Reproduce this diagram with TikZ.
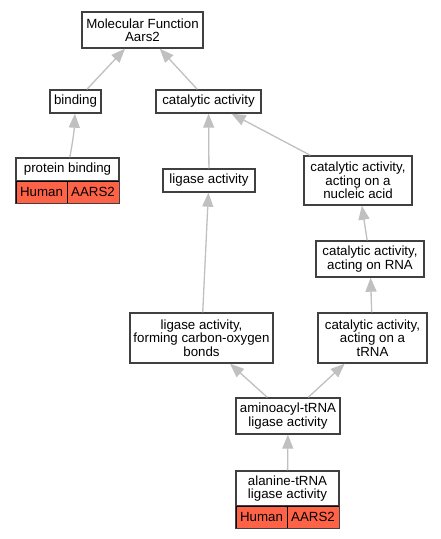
\documentclass[tikz,border=0pt]{standalone}
\usepackage{fontspec}
\setmainfont{Liberation Sans}
\usetikzlibrary{arrows.meta}
\definecolor{termline}{HTML}{404040}
\definecolor{edgegray}{HTML}{C0C0C0}
\definecolor{genefill}{HTML}{FF6347}
\tikzset{
  term/.style={draw=termline, line width=1.4pt, fill=white, inner sep=0pt,
    align=center, font=\fontsize{13.3}{13.5}\selectfont},
  cell/.style={draw=black, line width=1pt, fill=genefill, inner sep=0pt,
    minimum height=22pt, font=\fontsize{13.3}{13.5}\selectfont},
  isa/.style={draw=edgegray, line width=1.3pt, -{Triangle[length=14pt,width=11pt]}}
}
\begin{document}
\begin{tikzpicture}[x=1pt, y=-1pt]
            \useasboundingbox[fill=white] (0,0) rectangle (441,539);
            % Nodes
            \node[term, minimum width=121pt, minimum height=36pt] (mf) at (142.5,30) {Molecular Function\\Aars2};
            \node[term, minimum width=51pt, minimum height=23pt] (binding) at (75.5,101.5) {binding};
            \node[term, minimum width=105pt, minimum height=23pt] (catalytic) at (208.5,101.5) {catalytic activity};
            \node[term, minimum width=103pt, minimum height=23pt] (protbind) at (67.5,169.5) {protein binding};
            \node[term, minimum width=92pt, minimum height=23pt] (ligase) at (209,180.5) {ligase activity};
            \node[term, minimum width=108pt, minimum height=49pt] (nucleic) at (358,180.5) {catalytic activity,\\acting on a\\nucleic acid};
            \node[term, minimum width=108pt, minimum height=36pt] (rna) at (370,259) {catalytic activity,\\acting on RNA};
            \node[term, minimum width=143pt, minimum height=50pt] (ligaseco) at (201.5,338) {ligase activity,\\forming carbon-oxygen\\bonds};
            \node[term, minimum width=109pt, minimum height=50pt] (trna) at (372.5,338) {catalytic activity,\\acting on a\\tRNA};
            \node[term, minimum width=104pt, minimum height=36pt] (aminoacyl) at (288,416) {aminoacyl-tRNA\\ligase activity};
            \node[term, minimum width=103pt, minimum height=35pt] (alanine) at (287.5,488.5) {alanine-tRNA\\ligase activity};

            % gene rows
            \node[cell, minimum width=51pt] (protbindhuman) at (41.5,192) {Human};
            \node[cell, minimum width=52pt] (protbindgene) at (93,192) {AARS2};
            \node[cell, minimum width=51pt] (alaninehuman) at (261.5,517) {Human};
            \node[cell, minimum width=52pt] (alaninegene) at (313,517) {AARS2};
            \draw[termline, line width=1.4pt] (protbind.north west) rectangle (protbindgene.south east);
            \draw[termline, line width=1.4pt] (alanine.north west) rectangle (alaninegene.south east);

            % Edges
            \draw[isa] (binding) -- (mf);
            \draw[isa] (catalytic) -- (mf);
            \draw[isa] (protbind) to[bend right=4] (binding);
            \draw[isa] (ligase) -- (catalytic);
            \draw[isa] (nucleic) -- (catalytic);
            \draw[isa] (rna) -- (nucleic);
            \draw[isa] (trna) -- (rna);
            \draw[isa] (ligaseco) -- (ligase);
            \draw[isa] (aminoacyl) -- (ligaseco);
            \draw[isa] (aminoacyl) -- (trna);
            \draw[isa] (alanine) -- (aminoacyl);
        \end{tikzpicture}
\end{document}
